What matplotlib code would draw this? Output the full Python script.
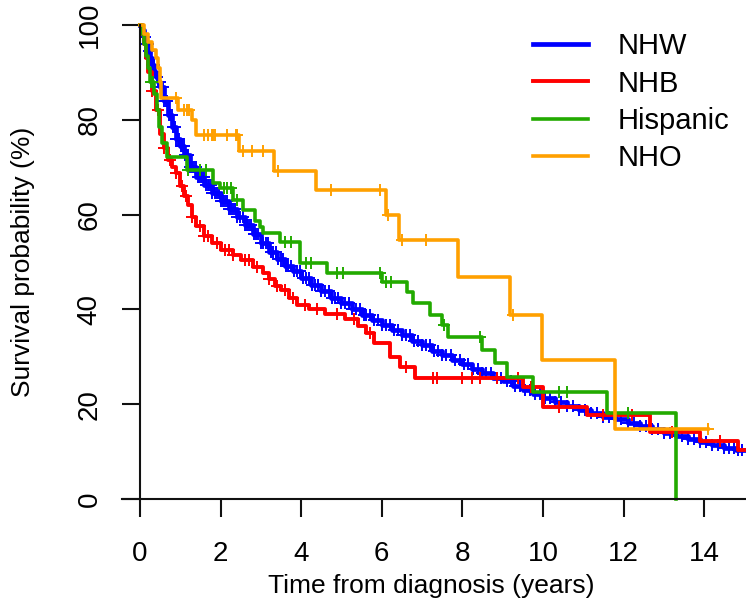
import numpy as np
import matplotlib
matplotlib.use("Agg")
import matplotlib.pyplot as plt

plt.rcParams['font.family'] = ['Liberation Sans', 'DejaVu Sans']

groups = ['NHW', 'NHB', 'Hispanic', 'NHO']
colors = ['#0000FF', '#FF0000', '#22AA00', '#FFA000']

# NHW (Kaplan-Meier steps)
nhw_t = [0.05, 0.1, 0.15, 0.2, 0.25, 0.3, 0.35, 0.4, 0.45, 0.5, 0.6, 0.7, 0.8, 0.9,
         1.0, 1.1, 1.25, 1.4, 1.6, 1.8, 2.0, 2.2, 2.4, 2.6, 2.8, 3.0, 3.2, 3.4, 3.6,
         3.8, 4.0, 4.25, 4.5, 4.75, 5.0, 5.25, 5.5, 5.75, 6.0, 6.25, 6.5, 6.75, 7.0,
         7.25, 7.5, 7.75, 8.0, 8.25, 8.5, 8.75, 9.0, 9.25, 9.5, 9.75, 10.0, 10.3,
         10.6, 10.9, 11.2, 11.5, 11.8, 12.1, 12.4, 12.7, 13.0, 13.3, 13.6, 13.9,
         14.2, 14.5, 14.8]
nhw_s = [99, 97.5, 96, 94.5, 93, 91.5, 90, 89, 88, 87, 84, 81, 78.5, 76,
         74.5, 72.5, 70, 68, 66.2, 64.5, 62.8, 61.2, 59.5, 57.8, 55.8, 54, 52.2, 50.6, 49.2,
         48, 46.6, 45.2, 43.8, 42.5, 41.3, 40.1, 38.9, 37.8, 36.7, 35.6, 34.5, 33.4, 32.4,
         31.3, 30.3, 29.3, 28.4, 27.4, 26.5, 25.6, 24.8, 23.9, 23, 22.2, 21.4, 20.5,
         19.6, 18.8, 18.1, 17.4, 16.8, 16.1, 15.4, 14.7, 14.0, 13.3, 12.6, 12.0,
         11.4, 10.8, 10.3]
nhw_end = 15.0
nhw_cens = [0.12, 0.15, 0.19, 0.22, 0.26, 0.3, 0.34, 0.38, 0.42, 0.45, 0.49, 0.52, 0.56,
            0.6, 0.64, 0.68, 0.72, 0.75, 0.79, 0.83, 0.87, 0.9, 0.94, 0.98, 1.02, 1.05,
            1.09, 1.12, 1.16, 1.2, 1.25, 1.3, 1.34, 1.38, 1.43, 1.47, 1.51, 1.55, 1.59,
            1.63, 1.68, 1.72, 1.76, 1.8, 1.85, 1.9, 1.95, 2.0, 2.05, 2.1, 2.15, 2.2,
            2.25, 2.3, 2.36, 2.42, 2.48, 2.55, 2.6, 2.65, 2.7, 2.75, 2.82, 2.88, 2.94,
            3.0, 3.06, 3.12, 3.18, 3.25, 3.31, 3.37, 3.43, 3.5, 3.56, 3.62, 3.68, 3.75,
            3.82, 3.9, 3.97, 4.05, 4.12, 4.2, 4.27, 4.35, 4.42, 4.5, 4.6, 4.68, 4.77,
            4.85, 4.92, 5.0, 5.1, 5.2, 5.27, 5.35, 5.45, 5.55, 5.62, 5.7, 5.8, 5.9,
            6.0, 6.1, 6.2, 6.3, 6.4, 6.5, 6.6, 6.7, 6.8, 6.9, 7.0, 7.1, 7.2, 7.3, 7.4,
            7.5, 7.6, 7.72, 7.83, 7.95, 8.05, 8.15, 8.27, 8.4, 8.5, 8.6, 8.72, 8.85,
            8.97, 9.1, 9.2, 9.3, 9.42, 9.55, 9.67, 9.8, 9.92, 10.05, 10.17, 10.3, 10.45,
            10.6, 10.75, 10.9, 11.05, 11.2, 11.35, 11.5, 11.65, 11.8, 11.95, 12.1,
            12.25, 12.4, 12.55, 12.7, 12.85, 13.0, 13.15, 13.3, 13.45, 13.6, 13.75,
            13.9, 14.05, 14.2, 14.35, 14.5, 14.62, 14.75, 14.85, 14.95]

# NHB
nhb_t = [0.05, 0.1, 0.15, 0.2, 0.3, 0.4, 0.5, 0.6, 0.7, 0.8, 0.9, 1.0, 1.1, 1.2, 1.3,
         1.4, 1.6, 1.8, 2.0, 2.3, 2.5, 2.8, 3.05, 3.2, 3.35, 3.5, 3.7, 3.9, 4.2, 4.6,
         5.1, 5.4, 5.6, 5.8, 6.2, 6.45, 6.82, 9.5, 10.0, 11.1, 12.65, 13.9, 14.85]
nhb_s = [98, 96, 93, 90, 86, 82, 77, 74, 71.5, 70, 68.7, 66, 64, 62, 59.5,
         57.5, 55.5, 54, 52.5, 51.5, 50.4, 49, 47.7, 46.5, 45, 44, 42.5, 41, 40, 39,
         38, 36.5, 35, 33, 30, 27.9, 25.6, 23.7, 19.5, 17.7, 14.2, 12.3, 10.3]
nhb_end = 15.0
nhb_cens = [0.3, 0.45, 0.6, 0.75, 0.9, 1.05, 1.15, 1.3, 1.5, 1.6, 1.7, 1.9, 2.1, 2.2,
            2.3, 2.6, 2.7, 2.9, 3.2, 3.4, 3.6, 3.8, 4.1, 4.4, 4.9, 5.3, 5.7, 6.6, 7.27,
            7.36, 7.98, 8.23, 8.44, 8.85, 9.38, 9.7, 10.4, 11.5, 12.2, 13.2, 14.4]

# Hispanic
his_t = [0.05, 0.1, 0.15, 0.2, 0.25, 0.35, 0.42, 0.48, 0.55, 0.68, 1.17, 1.82, 1.98,
         2.31, 2.56, 2.85, 2.98, 3.06, 3.47, 3.97, 4.63, 6.0, 6.62, 6.78, 7.2, 7.5,
         7.65, 8.5, 8.8, 9.1, 9.75, 11.6, 13.3]
his_s = [98, 96, 93.5, 91, 88, 85.5, 82, 78.5, 75, 72.2, 69.5, 66.7, 65.6,
         63, 61, 58.6, 57.4, 56.1, 54.3, 49.8, 47.7, 45.8, 43.7, 41.3, 38.8, 36.7,
         34.2, 31.4, 28.6, 25.8, 22.6, 18.1, 0]
his_end = 13.3
his_cens = [0.28, 0.3, 0.33, 1.2, 1.5, 1.65, 2.08, 2.15, 2.25, 2.4, 3.6, 3.76, 4.13,
            4.25, 4.88, 5.05, 5.95, 6.11, 6.24, 7.55, 8.45, 10.4, 10.6, 12.1]

# NHO
nho_t = [0.1, 0.2, 0.3, 0.4, 0.45, 0.5, 0.52, 0.95, 1.3, 1.4, 2.45, 3.33, 4.38,
         6.1, 6.43, 7.9, 9.18, 9.97, 11.8]
nho_s = [98, 96.5, 94.7, 93, 91, 88, 84.6, 82, 80, 76.8, 73.4, 69.2, 65.1,
         59.9, 54.6, 46.8, 38.9, 29.3, 14.7]
nho_end = 14.1
nho_cens = [0.9, 1.1, 1.17, 1.22, 1.6, 1.68, 1.78, 1.82, 1.86, 2.15, 2.38, 2.42, 2.55,
            2.78, 3.05, 3.43, 4.75, 5.96, 6.15, 6.5, 7.1, 9.25, 14.1]

data = [(nhw_t, nhw_s, nhw_end, nhw_cens),
        (nhb_t, nhb_s, nhb_end, nhb_cens),
        (his_t, his_s, his_end, his_cens),
        (nho_t, nho_s, nho_end, nho_cens)]
line_w = [3.4, 2.8, 2.6, 2.6]
mark_s = [8, 8, 8, 8]

fig = plt.figure(figsize=(7.46, 6.11), dpi=100)
ax = fig.add_axes([0.1552, 0.1522, 0.8448, 0.838])

for name, col, lw, ms, (t, s, end, cens) in zip(groups, colors, line_w, mark_s, data):
    x = np.r_[0, t, end]
    y = np.r_[100, s, s[-1]]
    ax.step(x, y, where='post', color=col, linewidth=lw, label=name)
    yy = np.r_[100, s]
    idx = np.searchsorted(t, cens, side='right')
    ax.plot(cens, yy[idx], linestyle='none', marker='+', markersize=ms,
            markeredgewidth=1.4, color=col)

ax.set_xlim(-0.6, 15.04)
ax.set_ylim(-4, 104)

for side in ['top', 'right']:
    ax.spines[side].set_visible(False)
ax.spines['left'].set_position(('data', 0))
ax.spines['left'].set_bounds(0, 100)
ax.spines['bottom'].set_position(('data', 0))
ax.spines['bottom'].set_bounds(-0.45, 15.04)
for side in ['left', 'bottom']:
    ax.spines[side].set_linewidth(1.5)
    ax.spines[side].set_color('#111111')

ax.set_xticks(np.arange(0, 15, 2))
ax.set_yticks(np.arange(0, 101, 20))
ax.tick_params(axis='both', direction='out', length=13, width=1.5,
               color='#111111', labelsize=20)
ax.tick_params(axis='x', pad=17)
ax.tick_params(axis='y', pad=14)
for lab in ax.get_yticklabels():
    lab.set_rotation(90)
    lab.set_va('center')

ax.set_xlabel('Time from diagnosis (years)', fontsize=19, labelpad=5)
ax.set_ylabel('Survival probability (%)', fontsize=19, labelpad=30)

ax.legend(loc='upper right', bbox_to_anchor=(1.015, 1.0), frameon=False,
          fontsize=21, handlelength=1.9, handletextpad=1.0, labelspacing=0.32)

fig.savefig('out.png', dpi=100)
